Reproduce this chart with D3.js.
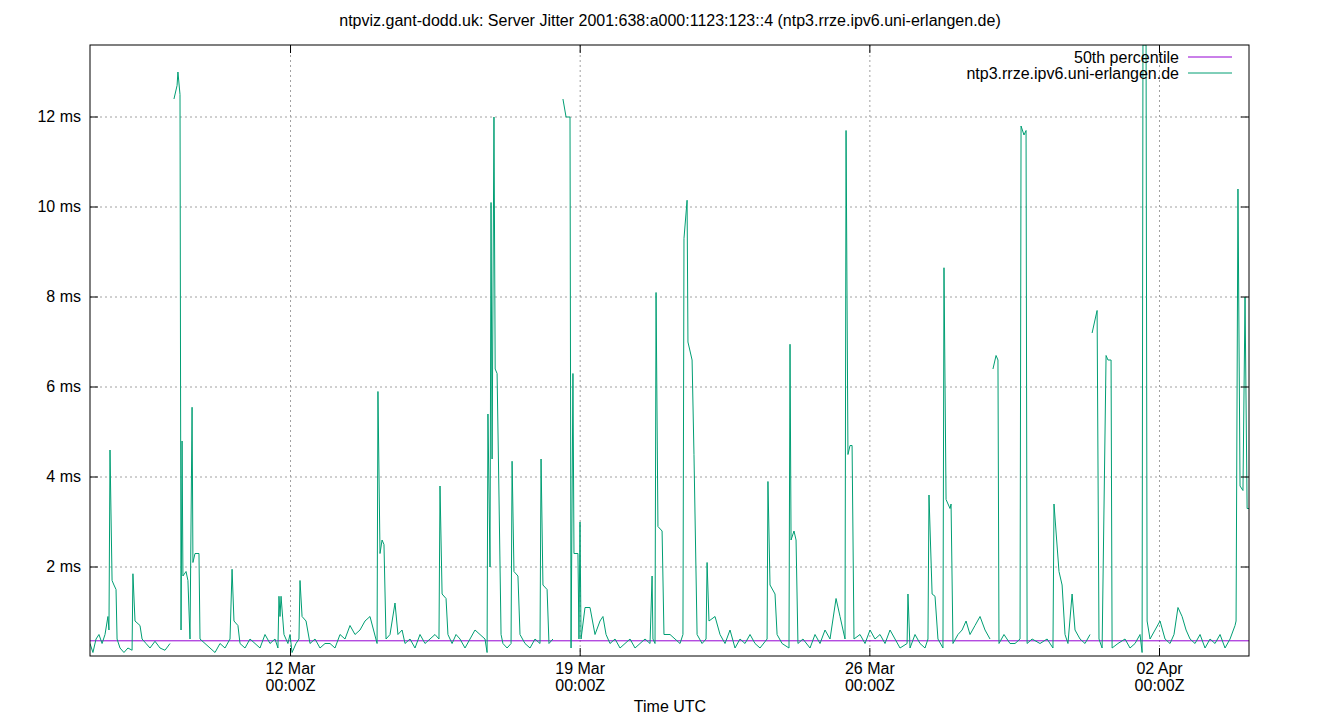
<!DOCTYPE html>
<html><head><meta charset="utf-8">
<script src="https://cdn.jsdelivr.net/npm/d3@7"></script>
<style>body{margin:0;background:#fff}text{font-family:"Liberation Sans",Arial,sans-serif}</style>
</head><body><svg id="c" width="1340" height="720"></svg>
<script>
const title = "ntpviz.gant-dodd.uk: Server Jitter 2001:638:a000:1123:123::4 (ntp3.rrze.ipv6.uni-erlangen.de)";
const startTime = "2025-03-07T03:42:00Z";
const spanHours = 672.2;
const percentile50 = 0.36;
const yTicks = [2,4,6,8,10,12];
const xTicks = ["2025-03-12T00:00:00Z","2025-03-19T00:00:00Z","2025-03-26T00:00:00Z","2025-04-02T00:00:00Z"];
// [hours since start, jitter ms]; null value = gap in data
const samples = [
[0,0.3],[1.7,0.1],[3.5,0.4],[5.2,0.5],[7,0.3],[8.7,0.5],[10.4,0.9],[11,0.6],[11.6,4.6],[12.8,1.7],[13.9,1.6],[15.1,1.5],[15.7,0.4],[17.4,0.2],[19.7,0.1],[22,0.2],[24.4,0.15],[24.9,1.85],[26.1,0.8],[29,0.7],[30.2,0.4],[32.5,0.3],[34.8,0.2],[37.7,0.35],[40.6,0.2],[43.5,0.15],[46.4,0.3],[47.5,null],
[48.7,12.4],[50.5,12.7],[51,13.0],[52.2,12.5],[52.8,0.6],[53.4,4.8],[53.9,1.8],[55.7,1.9],[56.8,1.7],[58,0.4],[59.2,5.55],[59.7,2.1],[60.9,2.3],[63.2,2.3],[63.8,0.4],[66.7,0.3],[69.6,0.2],[72.5,0.1],[75.4,0.3],[78.3,0.2],[81.2,0.4],[82.4,1.95],[83.5,0.8],[85.8,0.7],[87,0.3],[89.9,0.2],[92.8,0.4],[95.7,0.3],[98.6,0.2],[101.5,0.5],[104.4,0.3],[107.3,0.4],[109,0.2],[109.6,1.35],[110.2,0.9],[110.8,1.35],[112.5,0.5],[114.8,0.3],[116,0.5],[117.2,0.1],[119.5,0.3],[121.2,0.4],[121.8,1.7],[123,0.9],[125.3,0.8],[127.6,0.3],[130.5,0.4],[133.4,0.2],[136.3,0.3],[139.2,0.3],[142.1,0.2],[145,0.5],[147.9,0.4],[150.8,0.7],[153.7,0.5],[156.6,0.6],[159.5,0.8],[162.4,0.9],[166.5,0.3],[167,5.9],[168.2,2.3],[169.4,2.6],[170.5,2.5],[171.7,0.4],[174,0.5],[176.9,1.2],[178.6,0.5],[181,0.6],[182.7,0.3],[185.6,0.4],[188.5,0.2],[191.4,0.5],[194.3,0.3],[197.2,0.4],[200.1,0.5],[202.4,0.4],[203,3.8],[204.2,1.4],[206.5,1.3],[207.6,0.5],[210,0.3],[212.3,0.5],[214.6,0.4],[217.5,0.2],[220.4,0.4],[223.3,0.6],[226.2,0.5],[229.1,0.4],[230.3,0.1],[230.8,5.4],[232,2.0],[232.6,10.1],[233.2,4.4],[234.3,12.0],[235,6.4],[236.1,6.3],[237.2,3.6],[238.4,0.5],[239.5,0.3],[241.9,0.2],[244.2,0.3],[244.8,4.35],[245.9,1.9],[248.2,1.8],[249.4,0.5],[252.3,0.3],[255.2,0.2],[258.1,0.4],[261,0.3],[261.6,4.4],[262.7,1.6],[265.1,1.5],[266.2,0.3],[268.5,0.4],[270,null],
[274.3,12.4],[276.1,12.0],[278.4,12.0],[279,0.2],[280.1,6.3],[280.7,2.3],[283,2.3],[283.6,0.4],[284.2,3.0],[284.8,0.4],[287.1,1.1],[290,1.1],[292.9,0.5],[295.8,0.8],[297.5,0.9],[299.3,0.5],[301.6,0.3],[304.5,0.4],[307.4,0.2],[310.3,0.3],[313.2,0.4],[316.1,0.2],[319,0.3],[321.9,0.4],[324.8,0.3],[326,1.8],[326.5,0.4],[327.7,0.3],[328.3,8.1],[329.4,2.9],[331.8,2.8],[332.9,0.5],[336.4,0.5],[339.3,0.4],[342.2,0.3],[343.9,0.5],[344.5,9.3],[346.3,10.15],[346.8,7.0],[348,6.8],[349.2,6.6],[350.3,4.5],[352.1,0.5],[355,0.3],[357.3,0.4],[357.9,2.1],[359,0.8],[362.5,0.9],[365.4,0.5],[368.3,0.3],[371.2,0.6],[374.1,0.2],[377,0.4],[379.9,0.3],[382.8,0.5],[385.7,0.3],[388.6,0.2],[392.7,0.4],[393.2,3.9],[394.4,1.6],[397.3,1.4],[398.5,0.5],[401.4,0.3],[405.4,0.2],[406,6.95],[406.6,2.6],[408.3,2.8],[409.5,2.6],[410.6,0.3],[413.5,0.4],[417.6,0.2],[420.5,0.5],[423.4,0.3],[426.3,0.6],[429.2,0.4],[432.7,1.3],[435,0.9],[437.9,0.4],[438.5,11.7],[439.6,4.5],[440.8,4.7],[442,4.7],[443.1,0.4],[446.6,0.5],[449.5,0.3],[452.4,0.6],[455.3,0.4],[458.2,0.5],[461.1,0.3],[464,0.6],[466.9,0.4],[469.8,0.2],[473.9,0.3],[474.4,1.4],[475.6,0.2],[478.5,0.5],[481.4,0.3],[484.3,0.2],[486,0.4],[486.6,3.6],[488.4,1.4],[490.1,1.35],[491.8,0.4],[494.7,0.2],[495.3,8.65],[496.5,3.5],[498.8,3.3],[499.4,3.4],[500.5,0.3],[503.4,0.5],[505.8,0.6],[508.1,0.8],[510.4,0.5],[513.3,0.7],[516.2,0.9],[519.1,0.6],[522,0.4],[523,null],
[523.7,6.4],[525.5,6.7],[526.6,6.6],[527.2,0.3],[530.1,0.5],[533.6,0.3],[536.5,0.3],[539.4,0.4],[540,11.8],[541.7,11.6],[542.9,11.7],[543.5,0.3],[546.4,0.4],[551,0.3],[555.1,0.4],[558.5,0.2],[559.1,3.4],[562,1.9],[563.8,1.6],[565.5,0.5],[567.2,0.3],[569.6,1.4],[571.3,0.6],[574.2,0.4],[577.1,0.3],[580,0.5],[580.6,null],
[581.2,7.2],[583.5,7.6],[584.1,7.7],[585.2,0.4],[587,0.2],[589.3,6.7],[590.4,6.6],[592.2,6.6],[592.8,0.2],[596.2,0.3],[600.3,0.4],[603.2,0.2],[606.1,0.3],[609,0.5],[610.2,0.1],[610.7,13.6],[612.5,13.6],[613.1,0.8],[614.8,0.4],[617.7,0.6],[620.6,0.8],[623.5,0.4],[626.4,0.3],[628.7,0.5],[631,1.1],[633.4,0.9],[635.7,0.6],[638,0.4],[640.9,0.3],[643.8,0.5],[646.7,0.2],[649.6,0.4],[652.5,0.3],[655.4,0.5],[658.3,0.2],[661.2,0.4],[664.1,0.7],[664.7,0.8],[665.8,10.4],[667,3.8],[668.7,3.7],[669.9,8.0],[671.1,3.3],[672.2,3.3]
];

const svg = d3.select("#c");
const L=90,R=1249,T=45,B=656;
const t0 = new Date(startTime);
const data = samples.map(([h,v])=>({t:new Date(t0.getTime()+h*3600e3), v}));
const x = d3.scaleUtc().domain([t0,new Date(t0.getTime()+spanHours*3600e3)]).range([L,R]);
const y = d3.scaleLinear().domain([0,13.6]).range([657,T]);
const g = svg.append("g");
yTicks.forEach(v=>{g.append("line").attr("x1",L).attr("x2",R).attr("y1",y(v)).attr("y2",y(v)).attr("stroke","#a0a0a0").attr("stroke-dasharray","2,3");});
xTicks.forEach(s=>{const xx=x(new Date(s));g.append("line").attr("x1",xx).attr("x2",xx).attr("y1",T).attr("y2",B).attr("stroke","#a0a0a0").attr("stroke-dasharray","2,3");});
svg.append("defs").append("clipPath").attr("id","cp").append("rect").attr("x",L).attr("y",T).attr("width",R-L).attr("height",B-T);
const plot = svg.append("g").attr("clip-path","url(#cp)");
plot.append("line").attr("x1",L).attr("x2",R).attr("y1",y(percentile50)).attr("y2",y(percentile50)).attr("stroke","#9400d3").attr("stroke-width",1);
plot.append("path").datum(data).attr("fill","none").attr("stroke","#009e73").attr("stroke-width",1)
  .attr("d",d3.line().defined(d=>d.v!==null).x(d=>x(d.t)).y(d=>y(d.v)));
svg.append("rect").attr("x",L).attr("y",T).attr("width",R-L).attr("height",B-T).attr("fill","none").attr("stroke","#000");
yTicks.forEach(v=>{
  svg.append("line").attr("x1",L).attr("x2",L+8).attr("y1",y(v)).attr("y2",y(v)).attr("stroke","#000");
  svg.append("line").attr("x1",R-8).attr("x2",R).attr("y1",y(v)).attr("y2",y(v)).attr("stroke","#000");
  svg.append("text").attr("x",L-9).attr("y",y(v)+5).attr("text-anchor","end").attr("font-size",16).text(v+" ms");
});
const fmt = d3.utcFormat("%d %b");
xTicks.forEach(s=>{const d=new Date(s),xx=x(d);
  svg.append("line").attr("x1",xx).attr("x2",xx).attr("y1",B-8).attr("y2",B).attr("stroke","#000");
  svg.append("line").attr("x1",xx).attr("x2",xx).attr("y1",T).attr("y2",T+8).attr("stroke","#000");
  svg.append("text").attr("x",xx).attr("y",674).attr("text-anchor","middle").attr("font-size",16).text(fmt(d));
  svg.append("text").attr("x",xx).attr("y",691).attr("text-anchor","middle").attr("font-size",16).text("00:00Z");
});
svg.append("text").attr("x",670).attr("y",712).attr("text-anchor","middle").attr("font-size",16).text("Time UTC");
svg.append("text").attr("x",670).attr("y",26).attr("text-anchor","middle").attr("font-size",16).text(title);
[["50th percentile","#9400d3",63],["ntp3.rrze.ipv6.uni-erlangen.de","#009e73",79]].forEach(([s,c,yy])=>{
  svg.append("text").attr("x",1179).attr("y",yy).attr("text-anchor","end").attr("font-size",16).text(s);
  svg.append("line").attr("x1",1188).attr("x2",1232).attr("y1",yy-6).attr("y2",yy-6).attr("stroke",c);
});
</script></body></html>
